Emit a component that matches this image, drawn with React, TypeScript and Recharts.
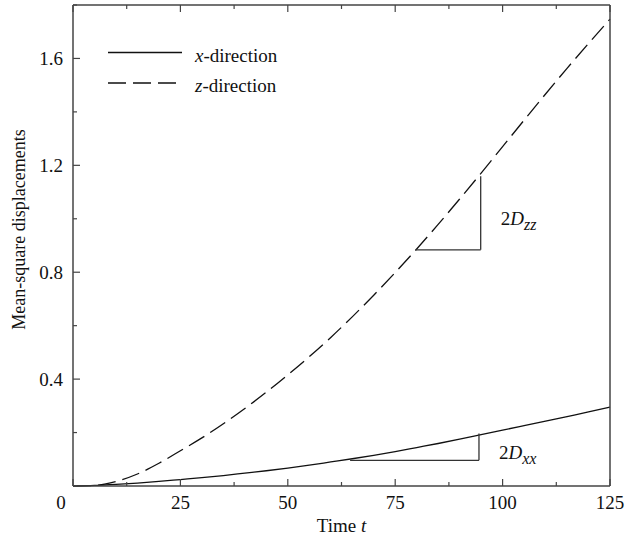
import React from 'react';
import {
  LineChart,
  Line,
  XAxis,
  YAxis,
  Legend,
  ReferenceLine,
} from 'recharts';

// time axis and the two mean-square displacement curves
const tValues = [0, 5, 10, 15, 20, 25, 30, 35, 40, 45, 50, 55, 60, 65, 70, 75, 80, 85, 90, 95, 100, 105, 110, 115, 120, 125];
const xDirection = [0, 0.002, 0.006, 0.011, 0.017, 0.024, 0.031, 0.039, 0.048, 0.057, 0.067, 0.078, 0.09, 0.102, 0.115, 0.129, 0.144, 0.159, 0.175, 0.192, 0.209, 0.226, 0.243, 0.26, 0.277, 0.295];
const zDirection = [0, 0.002, 0.017, 0.045, 0.085, 0.132, 0.18, 0.233, 0.29, 0.351, 0.416, 0.484, 0.556, 0.633, 0.714, 0.799, 0.887, 0.979, 1.074, 1.171, 1.27, 1.369, 1.467, 1.563, 1.656, 1.747];

const seriesNames = ['x', 'z'];

const xTicks = [0, 12.5, 25, 37.5, 50, 62.5, 75, 87.5, 100, 112.5, 125];
const xMajor = [0, 25, 50, 75, 100, 125];
const yTicks = [0, 0.2, 0.4, 0.6, 0.8, 1.0, 1.2, 1.4, 1.6, 1.8];
const yMajor = [0.4, 0.8, 1.2, 1.6];

// slope triangles: [start of horizontal leg, corner, top of vertical leg]
const zzTriangle = [[79.8, 0.884], [94.9, 0.884], [94.9, 1.159]];
const xxTriangle = [[64.5, 0.096], [94.5, 0.096], [94.5, 0.196]];

const data = tValues.map((t, i) => ({ t, x: xDirection[i], z: zDirection[i] }));

const FONT = '"Liberation Serif", "Times New Roman", serif';
const AXIS = '#444';
const DASH = '18 7';

const BottomTick = ({ x, y, payload }: any) => {
  const v = payload.value;
  const major = xMajor.includes(v);
  return (
    <g>
      <line x1={x} x2={x} y1={y} y2={y - (major ? 7 : 4)} stroke={AXIS} strokeWidth={1.2} />
      {major && (
        <text x={v === 0 ? x - 12 : x} y={y + 23} textAnchor="middle" fontFamily={FONT} fontSize={19} fill="#111">
          {v}
        </text>
      )}
    </g>
  );
};

const TopTick = ({ x, y, payload }: any) => {
  const major = xMajor.includes(payload.value);
  return <line x1={x} x2={x} y1={y} y2={y + (major ? 7 : 4)} stroke={AXIS} strokeWidth={1.2} />;
};

const LeftTick = ({ x, y, payload }: any) => {
  const v = payload.value;
  const major = yMajor.includes(v);
  return (
    <g>
      <line x1={x} x2={x + (major ? 7 : 4)} y1={y} y2={y} stroke={AXIS} strokeWidth={1.2} />
      {major && (
        <text x={x - 10} y={y + 6.5} textAnchor="end" fontFamily={FONT} fontSize={19} fill="#111">
          {v.toFixed(1)}
        </text>
      )}
    </g>
  );
};

const RightTick = ({ x, y, payload }: any) => {
  const major = yMajor.includes(payload.value);
  return <line x1={x} x2={x - (major ? 7 : 4)} y1={y} y2={y} stroke={AXIS} strokeWidth={1.2} />;
};

const XTitle = ({ viewBox }: any) => (
  <text x={viewBox.x + viewBox.width / 2} y={viewBox.y + 46} textAnchor="middle" fontFamily={FONT} fontSize={19} fill="#111">
    Time <tspan fontStyle="italic">t</tspan>
  </text>
);

const YTitle = ({ viewBox }: any) => {
  const cx = viewBox.x + viewBox.width - 48;
  const cy = viewBox.y + viewBox.height / 2 - 16;
  return (
    <text x={cx} y={cy} transform={`rotate(-90 ${cx} ${cy})`} textAnchor="middle" fontFamily={FONT} fontSize={18} fill="#111">
      Mean-square displacements
    </text>
  );
};

const slopeLabel = (sub: string) => (props: any) => {
  const vb = props.viewBox || {};
  const x = vb.x1 !== undefined ? Math.max(vb.x1, vb.x2) : vb.x + (vb.width || 0);
  const top = vb.y1 !== undefined ? Math.min(vb.y1, vb.y2) : vb.y;
  const h = vb.y1 !== undefined ? Math.abs(vb.y2 - vb.y1) : vb.height || 0;
  return (
    <text x={x + 20} y={top + h / 2 + 12} fontFamily={FONT} fontSize={19} fill="#111">
      2<tspan fontStyle="italic">D</tspan>
      <tspan fontStyle="italic" fontSize={16} dy={5}>{sub}</tspan>
    </text>
  );
};

const LegendBox = () => (
  <svg width={240} height={64} style={{ display: 'block' }}>
    {seriesNames.map((n, i) => (
      <g key={n}>
        <line x1={8} x2={82} y1={12.5 + i * 30.5} y2={12.5 + i * 30.5} stroke="#111" strokeWidth={1.3} strokeDasharray={i === 1 ? DASH : undefined} />
        <text x={95} y={21.5 + i * 30.5} fontFamily={FONT} fontSize={19} fill="#111">
          <tspan fontStyle="italic">{n}</tspan>-direction
        </text>
      </g>
    ))}
  </svg>
);

const segment = (a: number[], b: number[]) => [{ x: a[0], y: a[1] }, { x: b[0], y: b[1] }];

export default function App() {
  return (
    <div style={{ position: 'absolute', left: 0, top: 0, background: '#fff' }}>
      <LineChart width={627} height={543} data={data} margin={{ top: 4, right: 16, left: 72, bottom: 56 }}>
        <XAxis
          xAxisId="b"
          dataKey="t"
          type="number"
          domain={[0, 125]}
          ticks={xTicks}
          interval={0}
          height={1}
          tickSize={0}
          tickMargin={0}
          tickLine={false}
          tick={<BottomTick />}
          axisLine={{ stroke: AXIS, strokeWidth: 1.5 }}
          label={XTitle}
        />
        <XAxis
          xAxisId="top"
          orientation="top"
          dataKey="t"
          type="number"
          domain={[0, 125]}
          ticks={xTicks}
          interval={0}
          height={1}
          tickSize={0}
          tickMargin={0}
          tickLine={false}
          tick={<TopTick />}
          axisLine={{ stroke: AXIS, strokeWidth: 1.5 }}
        />
        <YAxis
          yAxisId="l"
          type="number"
          domain={[0, 1.8]}
          ticks={yTicks}
          interval={0}
          width={1}
          tickSize={0}
          tickMargin={0}
          tickLine={false}
          tick={<LeftTick />}
          axisLine={{ stroke: AXIS, strokeWidth: 1.5 }}
          label={YTitle}
        />
        <YAxis
          yAxisId="r"
          orientation="right"
          type="number"
          domain={[0, 1.8]}
          ticks={yTicks}
          interval={0}
          width={1}
          tickSize={0}
          tickMargin={0}
          tickLine={false}
          tick={<RightTick />}
          axisLine={{ stroke: AXIS, strokeWidth: 1.5 }}
        />
        <Legend
          layout="vertical"
          align="center"
          verticalAlign="middle"
          content={<LegendBox />}
          wrapperStyle={{ position: 'absolute', left: 100, top: 40, width: 240, height: 64 }}
        />
        <Line xAxisId="b" yAxisId="l" type="monotone" dataKey="x" name="x-direction" stroke="#111" strokeWidth={1.3} dot={false} isAnimationActive={false} />
        <Line xAxisId="b" yAxisId="l" type="monotone" dataKey="z" name="z-direction" stroke="#111" strokeWidth={1.3} strokeDasharray={DASH} dot={false} isAnimationActive={false} />
        <ReferenceLine xAxisId="b" yAxisId="l" segment={segment(zzTriangle[0], zzTriangle[1])} stroke="#333" strokeWidth={1.3} />
        <ReferenceLine
          xAxisId="b"
          yAxisId="l"
          segment={segment(zzTriangle[1], zzTriangle[2])}
          stroke="#333"
          strokeWidth={1.3}
          label={slopeLabel('zz')}
        />
        <ReferenceLine xAxisId="b" yAxisId="l" segment={segment(xxTriangle[0], xxTriangle[1])} stroke="#333" strokeWidth={1.3} />
        <ReferenceLine
          xAxisId="b"
          yAxisId="l"
          segment={segment(xxTriangle[1], xxTriangle[2])}
          stroke="#333"
          strokeWidth={1.3}
          label={slopeLabel('xx')}
        />
      </LineChart>
    </div>
  );
}
